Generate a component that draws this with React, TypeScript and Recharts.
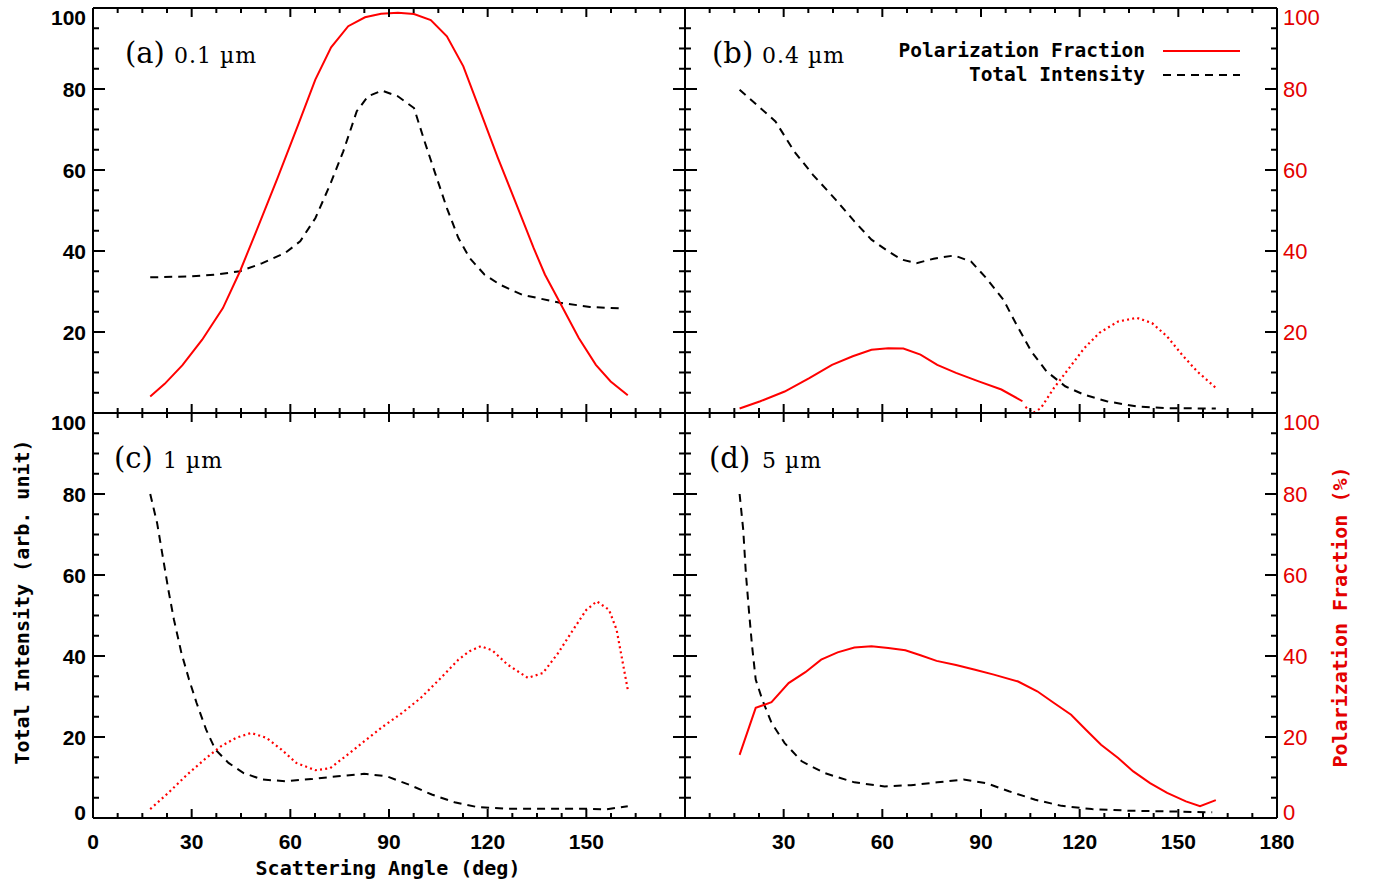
import React from "react";
import { Line, LineChart, XAxis, YAxis } from "recharts";

// axis ticks
const angleMajor = [0, 30, 60, 90, 120, 150, 180];
const valueMajor = [0, 20, 40, 60, 80, 100];
const angleMinor = Array.from({ length: 25 }, (_, i) => i * 7.5);
const valueMinor = Array.from({ length: 21 }, (_, i) => i * 5);

// (a) 0.1 um
const aPolAngle = [17.4, 21.8, 27.2, 33.2, 39.5, 44.7, 49.2, 56.1, 62.4, 67.6, 72.4, 77.6, 82.7, 87.6, 92.7, 97.6, 102.7, 107.6, 112.6, 117.4, 123.1, 128.8, 134.0, 137.4, 142.0, 147.7, 152.9, 157.4, 162.6];
const aPolValue = [4.1, 7.2, 11.8, 18.1, 25.9, 35.0, 44.0, 58.0, 71.2, 82.3, 90.3, 95.5, 97.7, 98.6, 98.8, 98.5, 97.0, 93.0, 85.6, 75.3, 63.0, 51.4, 40.7, 34.2, 27.2, 18.5, 11.9, 7.8, 4.4];
const aIntAngle = [17.4, 28.6, 37.8, 44.7, 51.5, 58.4, 63.0, 67.6, 72.1, 76.1, 80.2, 83.6, 87.9, 92.7, 97.6, 100.8, 104.2, 107.6, 111.1, 114.5, 119.0, 123.7, 130.5, 142.0, 151.1, 160.9];
const aIntValue = [33.5, 33.7, 34.2, 35.0, 37.0, 39.5, 42.4, 48.1, 56.4, 64.6, 74.5, 78.2, 79.6, 78.2, 75.3, 67.1, 58.8, 50.6, 43.2, 38.3, 34.2, 31.7, 29.2, 27.2, 26.2, 25.8];

// (b) 0.4 um
const bIntAngle = [16.6, 22.9, 27.5, 33.2, 38.9, 45.8, 51.5, 56.7, 61.8, 65.8, 70.4, 75.6, 81.9, 87.0, 91.6, 96.8, 100.8, 105.3, 109.9, 115.6, 121.4, 128.2, 137.4, 146.6, 161.4];
const bIntValue = [79.8, 75.3, 72.0, 64.6, 58.8, 52.7, 47.3, 42.8, 39.9, 37.9, 37.0, 38.1, 38.9, 37.4, 33.3, 28.0, 21.8, 15.2, 10.3, 6.6, 4.5, 2.9, 1.6, 1.2, 1.1];
const bPolAngle = [16.6, 22.9, 30.3, 37.8, 44.7, 51.0, 56.7, 61.8, 66.4, 71.6, 76.7, 82.4, 89.3, 96.2, 101.3, 102.6];
const bPolValue = [1.1, 2.9, 5.3, 8.6, 11.9, 14.0, 15.6, 16.0, 15.9, 14.4, 11.9, 9.9, 7.8, 5.8, 3.5, 2.9];
const bNegAngle = [103.5, 105.8, 108.2, 112.2, 116.8, 121.4, 126.0, 131.7, 137.4, 142.0, 146.6, 151.1, 155.7, 161.4];
const bNegValue = [1.5, 0, 1.2, 6.2, 11.1, 16.0, 19.8, 22.6, 23.5, 22.2, 18.9, 14.4, 10.3, 6.2];

// (c) 1 um
const cIntAngle = [17.4, 19.5, 21.2, 22.9, 24.6, 26.9, 29.2, 31.5, 34.4, 37.2, 41.2, 45.8, 51.5, 58.4, 66.4, 74.4, 82.4, 89.3, 96.2, 103.0, 109.9, 116.8, 126.0, 137.4, 148.9, 155.7, 162.6];
const cIntValue = [80, 72.8, 64.6, 56.4, 49.0, 40.7, 34.2, 28.4, 21.8, 16.9, 13.6, 11.1, 9.5, 9.1, 9.6, 10.3, 10.9, 10.3, 8.2, 5.8, 3.9, 2.7, 2.3, 2.3, 2.3, 2.1, 2.9];
const cNegAngle = [17.4, 22.9, 28.6, 34.4, 38.9, 43.5, 48.1, 52.7, 57.3, 61.8, 67.6, 72.1, 76.7, 82.4, 88.2, 93.9, 99.6, 105.3, 111.1, 114.5, 117.9, 121.4, 126.0, 132.2, 136.8, 141.4, 146.0, 150.0, 153.2, 156.9, 159.2, 160.9, 162.6];
const cNegValue = [2.2, 6.2, 10.7, 14.8, 17.7, 19.8, 21.0, 19.8, 16.9, 13.6, 11.8, 12.3, 15.2, 18.9, 22.6, 25.9, 29.6, 34.2, 39.1, 41.2, 42.4, 41.4, 37.9, 34.6, 35.8, 40.7, 46.5, 51.4, 53.5, 51.4, 46.5, 39.1, 31.7];

// (d) 5 um
const dIntAngle = [16.6, 17.7, 18.5, 19.5, 20.4, 21.5, 23.5, 26.3, 30.3, 35.5, 42.4, 51.5, 60.7, 68.7, 76.7, 84.7, 91.6, 98.5, 106.5, 114.5, 123.7, 135.1, 148.9, 160.3];
const dIntValue = [80, 71.2, 60.5, 50.6, 42.4, 34.2, 29.2, 23.5, 18.5, 14.0, 11.1, 8.8, 7.8, 8.1, 8.8, 9.5, 8.6, 6.6, 4.5, 3.0, 2.2, 1.8, 1.6, 1.4];
const dPolAngle = [16.6, 21.5, 26.3, 31.5, 36.6, 41.4, 46.4, 51.5, 56.7, 61.8, 67.0, 71.6, 76.5, 82.4, 88.2, 93.9, 101.3, 107.1, 112.2, 117.4, 121.9, 126.5, 131.7, 136.3, 141.4, 146.6, 152.3, 156.6, 161.4];
const dPolValue = [15.6, 27.2, 28.6, 33.3, 36.0, 39.1, 40.9, 42.1, 42.4, 42.0, 41.4, 40.2, 38.8, 37.8, 36.6, 35.4, 33.7, 31.3, 28.4, 25.5, 21.8, 18.1, 14.8, 11.5, 8.6, 6.2, 4.1, 2.9, 4.4];

const RED = "#ff0000";
const RED_TEXT = "#e30000";
const PLOT_W = 592;
const PLOT_H = 405;
const PAD = 70;
const AX = 1; // thickness reserved for each axis
const MONO = "'DejaVu Sans Mono', monospace";
const NUM = "'Liberation Sans', Arial, sans-serif";
const SERIF = "'DejaVu Serif', serif";

type Pt = { angle: number; value: number };
const zip = (a: number[], v: number[]): Pt[] => a.map((x, i) => ({ angle: x, value: v[i] }));

type Style = "solid" | "dash" | "dot";
interface Series {
  data: Pt[];
  style: Style;
}

const seriesStroke = (s: Style) => (s === "dash" ? "#000" : RED);
const seriesDash = (s: Style) => (s === "dash" ? "8 6" : s === "dot" ? "2 3.2" : undefined);

function tickFactory(side: "left" | "right" | "top" | "bottom", labels: number[], color: string, bold: boolean) {
  return (props: any) => {
    const { x, y, payload } = props;
    const v = payload.value as number;
    const vert = side === "left" || side === "right";
    const isMajor = vert ? valueMajor.includes(v) : angleMajor.includes(v);
    const len = vert ? (isMajor ? 12 : 6) : isMajor ? 9 : 5;
    let line;
    if (side === "left") line = <line x1={x} y1={y} x2={x + len} y2={y} />;
    else if (side === "right") line = <line x1={x} y1={y} x2={x - len} y2={y} />;
    else if (side === "bottom") line = <line x1={x} y1={y} x2={x} y2={y - len} />;
    else line = <line x1={x} y1={y} x2={x} y2={y + len} />;
    let label = null;
    if (isMajor && labels.includes(v)) {
      const common = {
        fontFamily: NUM,
        fontSize: bold ? 21 : 22,
        fontWeight: bold ? 700 : 400,
        fill: color,
        dominantBaseline: "central" as const,
      };
      if (vert) {
        const dy = v === 100 ? 9 : v === 0 ? -6 : 0;
        label =
          side === "left" ? (
            <text x={x - 7} y={y + dy} textAnchor="end" {...common}>{v}</text>
          ) : (
            <text x={x + 6} y={y + dy} textAnchor="start" {...common}>{v}</text>
          );
      } else if (side === "bottom") {
        label = <text x={x} y={y + 23} textAnchor="middle" {...common}>{v}</text>;
      }
    }
    return (
      <g>
        <g stroke="#000" strokeWidth={2}>{line}</g>
        {label}
      </g>
    );
  };
}

interface PanelProps {
  left: number;
  top: number;
  series: Series[];
  leftLabels: number[];
  rightLabels: number[];
  bottomLabels: number[];
}

function Panel({ left, top, series, leftLabels, rightLabels, bottomLabels }: PanelProps) {
  const axisLine = { stroke: "#000", strokeWidth: 2 };
  const m = PAD - AX;
  return (
    <div style={{ position: "absolute", left: left - PAD, top: top - PAD }}>
      <LineChart
        width={PLOT_W + 2 * PAD}
        height={PLOT_H + 2 * PAD}
        margin={{ top: m, right: m, bottom: m, left: m }}
      >
        <XAxis
          xAxisId="bottom"
          type="number"
          dataKey="angle"
          domain={[0, 180]}
          ticks={angleMinor}
          interval={0}
          height={AX}
          tickSize={0}
          tickMargin={0}
          tickLine={false}
          axisLine={axisLine}
          allowDataOverflow
          tick={tickFactory("bottom", bottomLabels, "#000", true)}
        />
        <XAxis
          xAxisId="top"
          orientation="top"
          type="number"
          dataKey="angle"
          domain={[0, 180]}
          ticks={angleMinor}
          interval={0}
          height={AX}
          tickSize={0}
          tickMargin={0}
          tickLine={false}
          axisLine={axisLine}
          allowDataOverflow
          tick={tickFactory("top", [], "#000", true)}
        />
        <YAxis
          yAxisId="left"
          type="number"
          domain={[0, 100]}
          ticks={valueMinor}
          interval={0}
          width={AX}
          tickSize={0}
          tickMargin={0}
          tickLine={false}
          axisLine={axisLine}
          allowDataOverflow
          tick={tickFactory("left", leftLabels, "#000", true)}
        />
        <YAxis
          yAxisId="right"
          orientation="right"
          type="number"
          domain={[0, 100]}
          ticks={valueMinor}
          interval={0}
          width={AX}
          tickSize={0}
          tickMargin={0}
          tickLine={false}
          axisLine={axisLine}
          allowDataOverflow
          tick={tickFactory("right", rightLabels, RED_TEXT, false)}
        />
        {series.map((s, i) => (
          <Line
            key={i}
            xAxisId="bottom"
            yAxisId="left"
            data={s.data}
            dataKey="value"
            type="linear"
            stroke={seriesStroke(s.style)}
            strokeWidth={s.style === "dot" ? 2.2 : 2}
            strokeDasharray={seriesDash(s.style)}
            dot={false}
            activeDot={false}
            isAnimationActive={false}
          />
        ))}
      </LineChart>
    </div>
  );
}

const PX = [93, 685];
const PY = [8, 413];

export default function App() {
  return (
    <div style={{ position: "absolute", left: 0, top: 0, width: 1374, height: 881, background: "#fff", overflow: "hidden" }}>
      <Panel
        left={PX[0]}
        top={PY[0]}
        series={[
          { data: zip(aIntAngle, aIntValue), style: "dash" },
          { data: zip(aPolAngle, aPolValue), style: "solid" },
        ]}
        leftLabels={[20, 40, 60, 80, 100]}
        rightLabels={[]}
        bottomLabels={[]}
      />
      <Panel
        left={PX[1]}
        top={PY[0]}
        series={[
          { data: zip(bIntAngle, bIntValue), style: "dash" },
          { data: zip(bPolAngle, bPolValue), style: "solid" },
          { data: zip(bNegAngle, bNegValue), style: "dot" },
        ]}
        leftLabels={[]}
        rightLabels={[20, 40, 60, 80, 100]}
        bottomLabels={[]}
      />
      <Panel
        left={PX[0]}
        top={PY[1]}
        series={[
          { data: zip(cIntAngle, cIntValue), style: "dash" },
          { data: zip(cNegAngle, cNegValue), style: "dot" },
        ]}
        leftLabels={valueMajor}
        rightLabels={[]}
        bottomLabels={[0, 30, 60, 90, 120, 150]}
      />
      <Panel
        left={PX[1]}
        top={PY[1]}
        series={[
          { data: zip(dIntAngle, dIntValue), style: "dash" },
          { data: zip(dPolAngle, dPolValue), style: "solid" },
        ]}
        leftLabels={[]}
        rightLabels={valueMajor}
        bottomLabels={[30, 60, 90, 120, 150, 180]}
      />
      <svg width={1374} height={881} style={{ position: "absolute", left: 0, top: 0, pointerEvents: "none" }}>
        <g fontFamily={SERIF} fill="#000">
          <text x={125} y={63} fontSize={29}>(a)</text>
          <text x={174} y={63} fontSize={22} letterSpacing={1}>0.1 µm</text>
          <text x={712} y={63} fontSize={29}>(b)</text>
          <text x={762} y={63} fontSize={22} letterSpacing={1}>0.4 µm</text>
          <text x={114} y={468} fontSize={29}>(c)</text>
          <text x={163} y={468} fontSize={22} letterSpacing={1}>1 µm</text>
          <text x={709} y={468} fontSize={29}>(d)</text>
          <text x={762} y={468} fontSize={22} letterSpacing={1}>5 µm</text>
        </g>
        <g fontFamily={MONO} fontWeight={700} fontSize={20} fill="#000">
          <text x={1145} y={57} textAnchor="end" fontSize={19.5}>Polarization Fraction</text>
          <text x={1145} y={81} textAnchor="end" fontSize={19.5}>Total Intensity</text>
          <text x={388} y={868} textAnchor="middle" dominantBaseline="central">Scattering Angle (deg)</text>
          <text x={22} y={602} textAnchor="middle" dominantBaseline="central" transform="rotate(-90 22 602)">
            Total Intensity (arb. unit)
          </text>
          <text x={1340} y={617} textAnchor="middle" dominantBaseline="central" fill={RED_TEXT} transform="rotate(-90 1340 617)">
            Polarization Fraction (%)
          </text>
        </g>
        <line x1={1163} y1={51} x2={1240} y2={51} stroke={RED} strokeWidth={2} />
        <line x1={1163} y1={75} x2={1240} y2={75} stroke="#000" strokeWidth={2} strokeDasharray="8 6" />
      </svg>
    </div>
  );
}
